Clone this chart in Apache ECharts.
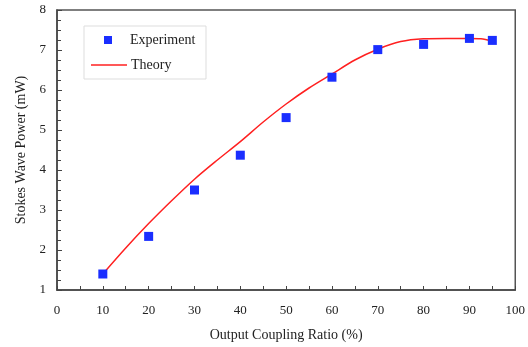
<!DOCTYPE html>
<html>
<head>
<meta charset="utf-8">
<script src="https://cdn.jsdelivr.net/npm/echarts@6/dist/echarts.min.js"></script>
<style>
  html, body { margin: 0; padding: 0; background: #fff; }
  #chart { width: 528px; height: 347px; }
</style>
</head>
<body>
<div id="chart"></div>
<script>
// measured points (output coupling %, power mW)
const expX = [10, 20, 30, 40, 50, 60, 70, 80, 90, 95]
const expY = [1.40, 2.34, 3.50, 4.37, 5.31, 6.32, 7.01, 7.14, 7.29, 7.24]

// theory curve
const thX = [10, 15, 20, 25, 30, 35, 40, 45, 50, 55, 60, 65, 70, 75, 80, 85, 90, 92.5, 95]
const thY = [1.40, 2.05, 2.66, 3.23, 3.77, 4.25, 4.71, 5.20, 5.65, 6.05, 6.40, 6.75, 7.02, 7.21, 7.28, 7.29, 7.29, 7.28, 7.22]

const FONT = 'Liberation Serif'
const zip = ( xs, ys ) => xs.map(( x, i ) => [ x, ys[ i ] ])

const mychart = echarts.init( document.getElementById('chart') )

mychart.setOption({
    animation : false,
    textStyle : { fontFamily : FONT },
    grid : {
        left : 57, right : 11, top : 10, bottom : 54,
        show : true,
        borderColor : '#555',
        borderWidth : 1.5,
    },
    graphic : [{
        type : 'rect',
        shape : { x : 84, y : 26, width : 122, height : 53 },
        style : { fill : '#fff', stroke : '#ddd', lineWidth : 1 },
        z : 5,
    }],
    legend : [
        {
            // Experiment marker
            data : ['Experiment'],
            left : 104, top : 33,
            itemWidth : 8, itemHeight : 8,
            itemGap : 0,
            padding : 0,
            selectedMode : false,
            textStyle : { fontFamily : FONT, fontSize : 14, color : '#222', padding : [0, 0, 0, 13] },
            z : 10,
        },
        {
            // Theory line, drawn as a thin bar
            data : [{ name : 'Theory', icon : 'rect' }],
            left : 91, top : 58,
            itemWidth : 36, itemHeight : 1.5,
            padding : 0,
            selectedMode : false,
            textStyle : { fontFamily : FONT, fontSize : 14, color : '#222', padding : [0, 0, 0, -1] },
            z : 10,
        },
    ],
    xAxis : {
        type : 'value',
        min : 0, max : 100, interval : 10,
        name : 'Output Coupling Ratio (%)',
        nameLocation : 'middle',
        nameGap : 38,
        nameTextStyle : { fontFamily : FONT, fontSize : 14, color : '#222' },
        axisLine : { lineStyle : { color : '#444', width : 1.5 } },
        axisTick : { inside : true, length : 4, lineStyle : { color : '#444' } },
        minorTick : { show : true, splitNumber : 2, length : 4, lineStyle : { color : '#444' } },
        axisLabel : { fontFamily : FONT, fontSize : 13, color : '#222', margin : 14 },
        splitLine : { show : false },
    },
    yAxis : {
        type : 'value',
        min : 1, max : 8, interval : 1,
        name : 'Stokes Wave Power (mW)',
        nameLocation : 'middle',
        nameGap : 28,
        nameTextStyle : { fontFamily : FONT, fontSize : 14, color : '#222' },
        axisLine : { show : true, lineStyle : { color : '#444', width : 1.5 } },
        axisTick : { show : true, inside : true, length : 5, lineStyle : { color : '#444' } },
        minorTick : { show : true, splitNumber : 4, length : 4, lineStyle : { color : '#444' } },
        axisLabel : { fontFamily : FONT, fontSize : 13, color : '#222', margin : 11 },
        splitLine : { show : false },
    },
    series : [
        {
            name : 'Theory',
            type : 'line',
            data : zip( thX, thY ),
            smooth : 0.3,
            symbol : 'none',
            lineStyle : { color : '#ff2020', width : 1.5 },
            itemStyle : { color : '#ff2020' },
            z : 2,
        },
        {
            name : 'Experiment',
            type : 'scatter',
            data : zip( expX, expY ),
            symbol : 'rect',
            symbolSize : 9,
            itemStyle : { color : '#1a2eff', opacity : 1 },
            z : 3,
        },
    ],
})
</script>
</body>
</html>
